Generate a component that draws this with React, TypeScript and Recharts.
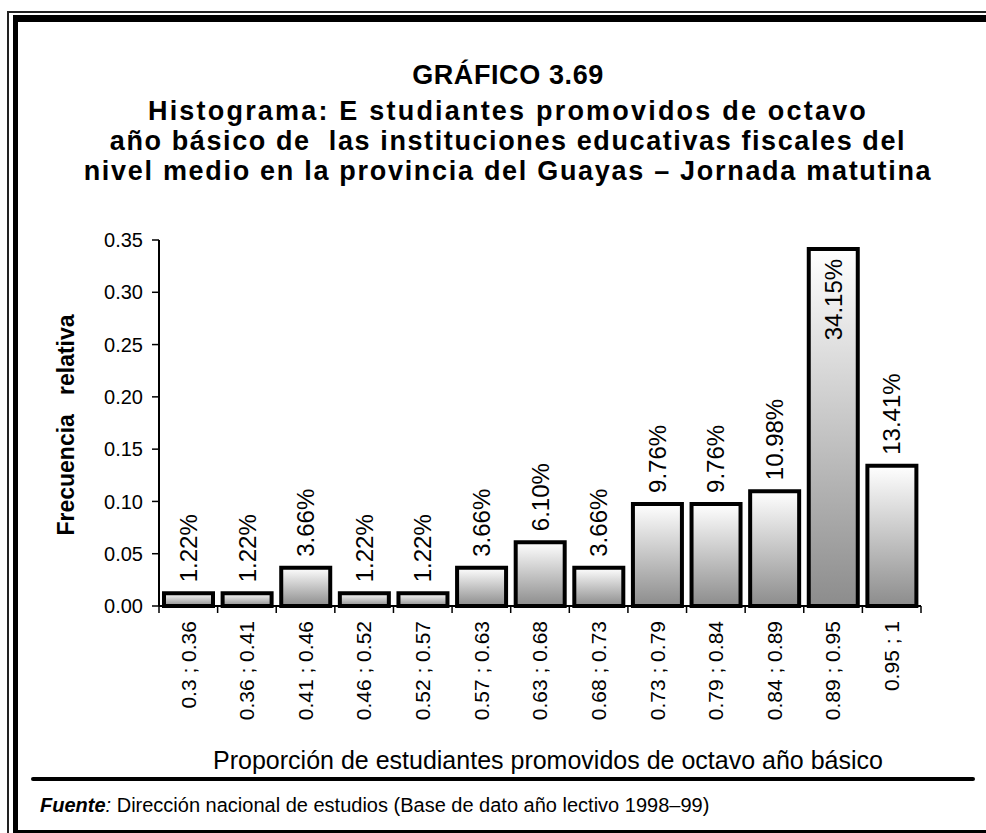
import { BarChart, Bar, XAxis, YAxis, LabelList } from 'recharts'

const categories = [
  '0.3 ; 0.36',
  '0.36 ; 0.41',
  '0.41 ; 0.46',
  '0.46 ; 0.52',
  '0.52 ; 0.57',
  '0.57 ; 0.63',
  '0.63 ; 0.68',
  '0.68 ; 0.73',
  '0.73 ; 0.79',
  '0.79 ; 0.84',
  '0.84 ; 0.89',
  '0.89 ; 0.95',
  '0.95 ; 1',
]
const frequencies = [
  0.0122, 0.0122, 0.0366, 0.0122, 0.0122, 0.0366, 0.061, 0.0366, 0.0976,
  0.0976, 0.1098, 0.3415, 0.1341,
]
const yTicks = [0, 0.05, 0.1, 0.15, 0.2, 0.25, 0.3, 0.35]

const titleLines = [
  'GRÁFICO 3.69',
  'Histograma: E studiantes promovidos de octavo',
  'año básico de  las instituciones educativas fiscales del',
  'nivel medio en la provincia del Guayas – Jornada matutina',
]
const titleSpacing = [0.6, 2.2, 1.6, 1.7]

const font = 'Arial, "Liberation Sans", Helvetica, sans-serif'

const data = categories.map((name, i) => ({ name, freq: frequencies[i] }))

const renderXTick = (props: any) => {
  const { x, y, payload, index } = props
  const half = payload?.offset ?? 29.3
  const ty = y + 15
  return (
    <g>
      <line x1={x - half} y1={y} x2={x - half} y2={y + 7} stroke="#000" strokeWidth={1.5} />
      {index === categories.length - 1 && (
        <line x1={x + half} y1={y} x2={x + half} y2={y + 7} stroke="#000" strokeWidth={1.5} />
      )}
      <text
        x={x}
        y={ty}
        dy="0.35em"
        transform={`rotate(-90, ${x}, ${ty})`}
        textAnchor="end"
        fontSize={21}
        fontFamily={font}
        fill="#000"
      >
        {payload.value}
      </text>
    </g>
  )
}

const renderBarLabel = (props: any) => {
  const { x, y, width, value } = props
  const cx = Number(x) + Number(width) / 2
  const inside = value > 0.3 // la barra alta lleva la etiqueta adentro
  const ty = inside ? Number(y) + 10 : Number(y) - 11
  return (
    <text
      x={cx}
      y={ty}
      dy="0.35em"
      transform={`rotate(-90, ${cx}, ${ty})`}
      textAnchor={inside ? 'end' : 'start'}
      fontSize={24}
      fontFamily={font}
      fill="#000"
    >
      {(value * 100).toFixed(2) + '%'}
    </text>
  )
}

export default function App() {
  return (
    <div
      style={{
        position: 'absolute',
        left: 0,
        top: 0,
        width: 986,
        height: 833,
        overflow: 'hidden',
        background: '#fff',
        fontFamily: font,
        color: '#000',
      }}
    >
      {/* marco doble */}
      <div
        style={{
          position: 'absolute',
          left: 7,
          top: 11,
          width: 1000,
          height: 900,
          borderLeft: '2px solid #222',
          borderTop: '2px solid #222',
        }}
      />
      <div
        style={{
          position: 'absolute',
          left: 13,
          top: 15,
          width: 1000,
          height: 818,
          boxSizing: 'border-box',
          borderLeft: '5px solid #000',
          borderTop: '7px solid #000',
          borderBottom: '3px solid #000',
        }}
      />

      {titleLines.map((line, i) => (
        <div
          key={i}
          style={{
            position: 'absolute',
            left: 20,
            width: 976,
            top: i === 0 ? 60 : 66 + i * 30,
            lineHeight: '30px',
            fontSize: 27,
            fontWeight: 'bold',
            letterSpacing: titleSpacing[i],
            textAlign: 'center',
            whiteSpace: 'pre',
          }}
        >
          {line}
        </div>
      ))}

      <div style={{ position: 'absolute', left: 0, top: 0 }}>
        <BarChart
          width={986}
          height={833}
          data={data}
          margin={{ top: 240, right: 65, bottom: 117, left: 99 }}
          barCategoryGap={5}
        >
          <defs>
            <linearGradient id="barFill" x1="0" y1="0" x2="0" y2="1">
              <stop offset="0%" stopColor="#ffffff" />
              <stop offset="100%" stopColor="#8c8c8c" />
            </linearGradient>
          </defs>
          <XAxis
            dataKey="name"
            height={110}
            interval={0}
            axisLine={{ stroke: '#000', strokeWidth: 2 }}
            tickLine={false}
            tickSize={0}
            tickMargin={0}
            tick={renderXTick}
          />
          <YAxis
            width={60}
            domain={[0, 0.35]}
            ticks={yTicks}
            interval={0}
            tickFormatter={(v: number) => v.toFixed(2)}
            axisLine={{ stroke: '#000', strokeWidth: 2 }}
            tickLine={{ stroke: '#000', strokeWidth: 1.5 }}
            tickSize={7}
            tickMargin={9}
            tick={{ fill: '#000', fontSize: 20, fontFamily: font }}
          />
          <Bar
            dataKey="freq"
            fill="url(#barFill)"
            stroke="#000"
            strokeWidth={4}
            isAnimationActive={false}
          >
            <LabelList dataKey="freq" content={renderBarLabel} />
          </Bar>
        </BarChart>
      </div>

      <div
        style={{
          position: 'absolute',
          left: 66 - 150,
          top: 425 - 14,
          width: 300,
          height: 28,
          lineHeight: '28px',
          fontSize: 23,
          fontWeight: 'bold',
          textAlign: 'center',
          whiteSpace: 'pre',
          transform: 'rotate(-90deg)',
        }}
      >
        {'Frecuencia   relativa'}
      </div>

      <div
        style={{
          position: 'absolute',
          left: 148,
          width: 800,
          top: 745,
          lineHeight: '30px',
          fontSize: 25,
          textAlign: 'center',
        }}
      >
        Proporción de estudiantes promovidos de octavo año básico
      </div>

      <div
        style={{
          position: 'absolute',
          left: 31,
          top: 777,
          width: 944,
          height: 4,
          background: '#000',
          borderRadius: 2,
        }}
      />

      <div
        style={{
          position: 'absolute',
          left: 40,
          top: 793,
          lineHeight: '24px',
          fontSize: 20,
          whiteSpace: 'pre',
        }}
      >
        <span style={{ fontWeight: 'bold', fontStyle: 'italic' }}>Fuente</span>
        <span style={{ fontStyle: 'italic' }}>:</span> Dirección nacional de estudios (Base de dato año
        lectivo 1998–99)
      </div>
    </div>
  )
}
